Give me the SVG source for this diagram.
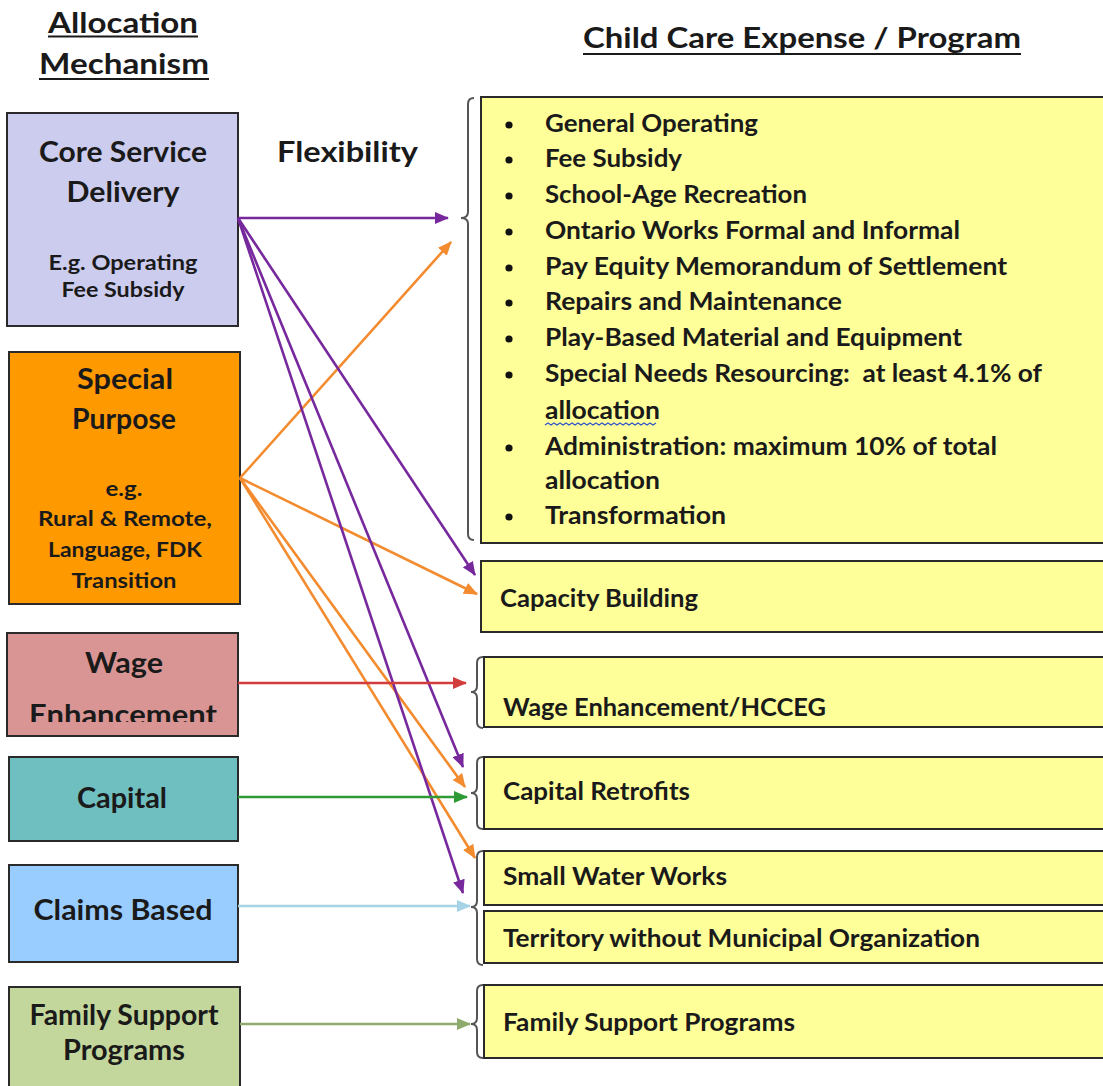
<svg xmlns="http://www.w3.org/2000/svg" width="1103" height="1086" viewBox="0 0 1103 1086">
<style>
text{font-family:Lato,"Liberation Sans",sans-serif;font-weight:700;fill:#1a1a1a}
.hd{font-size:28px}
.big{font-size:29px;text-anchor:middle}
.sm{font-size:20px;text-anchor:middle}
.it{font-size:24px}
.box{stroke:#2a2a2a;stroke-width:2}
.ybox{fill:#FFFF99;stroke:#2a2a2a;stroke-width:2}
.brace{fill:none;stroke:#555;stroke-width:2}
.ul{stroke:#1a1a1a;stroke-width:2}
.c{fill:none;stroke-width:2.6}
</style>
<defs>
<marker id="mP" viewBox="0 0 14 12" refX="13" refY="6" markerWidth="14" markerHeight="12" markerUnits="userSpaceOnUse" orient="auto"><path d="M0,0 L14,6 L0,12 z" fill="#76289C"/></marker>
<marker id="mO" viewBox="0 0 14 12" refX="13" refY="6" markerWidth="14" markerHeight="12" markerUnits="userSpaceOnUse" orient="auto"><path d="M0,0 L14,6 L0,12 z" fill="#F38B2F"/></marker>
<marker id="mR" viewBox="0 0 14 12" refX="13" refY="6" markerWidth="14" markerHeight="12" markerUnits="userSpaceOnUse" orient="auto"><path d="M0,0 L14,6 L0,12 z" fill="#D23C3C"/></marker>
<marker id="mG" viewBox="0 0 14 12" refX="13" refY="6" markerWidth="14" markerHeight="12" markerUnits="userSpaceOnUse" orient="auto"><path d="M0,0 L14,6 L0,12 z" fill="#2E9A35"/></marker>
<marker id="mB" viewBox="0 0 14 12" refX="13" refY="6" markerWidth="14" markerHeight="12" markerUnits="userSpaceOnUse" orient="auto"><path d="M0,0 L14,6 L0,12 z" fill="#A7D3E6"/></marker>
<marker id="mF" viewBox="0 0 14 12" refX="13" refY="6" markerWidth="14" markerHeight="12" markerUnits="userSpaceOnUse" orient="auto"><path d="M0,0 L14,6 L0,12 z" fill="#8EAA6C"/></marker>
<clipPath id="wclip"><rect x="0" y="630" width="245" height="92"/></clipPath>
</defs>
<rect width="1103" height="1086" fill="#ffffff"/>

<g id="headers">
<text class="hd" x="48" y="33" textLength="150" lengthAdjust="spacingAndGlyphs">Allocation</text>
<line class="ul" x1="48" y1="36.5" x2="198" y2="36.5"/>
<text class="hd" x="39" y="74" textLength="170" lengthAdjust="spacingAndGlyphs">Mechanism</text>
<line class="ul" x1="39" y1="79" x2="209" y2="79"/>
<text class="hd" x="583" y="48" textLength="438" lengthAdjust="spacingAndGlyphs">Child Care Expense / Program</text>
<line class="ul" x1="583" y1="54" x2="1021" y2="54"/>
<text class="hd" x="277" y="162" font-size="29" textLength="141" lengthAdjust="spacingAndGlyphs">Flexibility</text>
</g>

<g id="core-service">
<rect class="box" x="7" y="113" width="231" height="213" fill="#CCCCEE"/>
<text class="big" x="123" y="162" textLength="168" lengthAdjust="spacingAndGlyphs">Core Service</text>
<text class="big" x="123" y="202" textLength="113" lengthAdjust="spacingAndGlyphs">Delivery</text>
<text class="sm" x="123" y="270" textLength="149" lengthAdjust="spacingAndGlyphs">E.g. Operating</text>
<text class="sm" x="123" y="297" textLength="123" lengthAdjust="spacingAndGlyphs">Fee Subsidy</text>
</g>

<g id="special-purpose">
<rect class="box" x="9" y="352" width="231" height="252" fill="#FF9900"/>
<text class="big" x="125" y="389" textLength="96" lengthAdjust="spacingAndGlyphs">Special</text>
<text class="big" x="124" y="429" textLength="104" lengthAdjust="spacingAndGlyphs">Purpose</text>
<text class="sm" x="124" y="496" textLength="37" lengthAdjust="spacingAndGlyphs">e.g.</text>
<text class="sm" x="125" y="526" textLength="174" lengthAdjust="spacingAndGlyphs">Rural &amp; Remote,</text>
<text class="sm" x="125" y="557" textLength="154" lengthAdjust="spacingAndGlyphs">Language, FDK</text>
<text class="sm" x="124" y="588" textLength="105" lengthAdjust="spacingAndGlyphs">Transition</text>
</g>

<g id="wage-enhancement">
<rect class="box" x="7" y="633" width="231" height="103" fill="#D99594"/>
<text class="big" x="124" y="673" font-size="28" textLength="78" lengthAdjust="spacingAndGlyphs">Wage</text>
<text class="big" x="123" y="725" font-size="29" textLength="188" lengthAdjust="spacingAndGlyphs" clip-path="url(#wclip)">Enhancement</text>
</g>

<g id="capital">
<rect class="box" x="9" y="757" width="229" height="84" fill="#6FBEC0"/>
<text class="big" x="122" y="808" textLength="90" lengthAdjust="spacingAndGlyphs">Capital</text>
</g>

<g id="claims-based">
<rect class="box" x="9" y="865" width="229" height="97" fill="#99CCFF"/>
<text class="big" x="123" y="920" textLength="179" lengthAdjust="spacingAndGlyphs">Claims Based</text>
</g>

<g id="family-support">
<rect class="box" x="9" y="987" width="231" height="110" fill="#C3D69B"/>
<text class="big" x="124" y="1025" font-size="27" textLength="189" lengthAdjust="spacingAndGlyphs">Family Support</text>
<text class="big" x="124" y="1060" font-size="27" textLength="122" lengthAdjust="spacingAndGlyphs">Programs</text>
</g>

<g id="core-programs">
<path class="brace" d="M474,98 Q468,98 468,104 L468,212 Q468,218 461,218 Q468,218 468,224 L468,534 Q468,540 474,540"/>
<rect class="ybox" x="481" y="97" width="630" height="446"/>
<g fill="#111">
<circle cx="509" cy="125" r="3.6"/><circle cx="509" cy="160" r="3.6"/><circle cx="509" cy="196" r="3.6"/>
<circle cx="509" cy="232" r="3.6"/><circle cx="509" cy="268" r="3.6"/><circle cx="509" cy="303" r="3.6"/>
<circle cx="509" cy="339" r="3.6"/><circle cx="509" cy="375" r="3.6"/><circle cx="509" cy="448" r="3.6"/>
<circle cx="509" cy="517" r="3.6"/>
</g>
<text class="it" x="545" y="132" textLength="213" lengthAdjust="spacingAndGlyphs">General Operating</text>
<text class="it" x="545" y="167" textLength="137" lengthAdjust="spacingAndGlyphs">Fee Subsidy</text>
<text class="it" x="545" y="203" textLength="262" lengthAdjust="spacingAndGlyphs">School-Age Recreation</text>
<text class="it" x="545" y="239" textLength="415" lengthAdjust="spacingAndGlyphs">Ontario Works Formal and Informal</text>
<text class="it" x="545" y="275" textLength="462" lengthAdjust="spacingAndGlyphs">Pay Equity Memorandum of Settlement</text>
<text class="it" x="545" y="310" textLength="297" lengthAdjust="spacingAndGlyphs">Repairs and Maintenance</text>
<text class="it" x="545" y="346" textLength="417" lengthAdjust="spacingAndGlyphs">Play-Based Material and Equipment</text>
<text class="it" x="545" y="382" textLength="497" lengthAdjust="spacingAndGlyphs" xml:space="preserve">Special Needs Resourcing:  at least 4.1% of</text>
<text class="it" x="545" y="419" textLength="115" lengthAdjust="spacingAndGlyphs">allocation</text>
<path d="M545,425 l3,-2 l3,2 l3,-2 l3,2 l3,-2 l3,2 l3,-2 l3,2 l3,-2 l3,2 l3,-2 l3,2 l3,-2 l3,2 l3,-2 l3,2 l3,-2 l3,2 l3,-2 l3,2 l3,-2 l3,2 l3,-2 l3,2 l3,-2 l3,2 l3,-2 l3,2 l3,-2 l3,2 l3,-2 l3,2 l3,-2 l3,2 l3,-2 l3,2 l3,-2" fill="none" stroke="#3355CC" stroke-width="1.3"/>
<text class="it" x="545" y="455" textLength="452" lengthAdjust="spacingAndGlyphs">Administration: maximum 10% of total</text>
<text class="it" x="545" y="489" textLength="115" lengthAdjust="spacingAndGlyphs">allocation</text>
<text class="it" x="545" y="524" textLength="181" lengthAdjust="spacingAndGlyphs">Transformation</text>
</g>

<g id="capacity-building">
<rect class="ybox" x="481" y="561" width="630" height="71"/>
<text class="it" x="500" y="607" textLength="198" lengthAdjust="spacingAndGlyphs">Capacity Building</text>
</g>

<g id="wage-hcceg">
<path class="brace" d="M483,657 Q477,657 477,663 L477,686 Q477,692 471,692 Q477,692 477,698 L477,722 Q477,728 483,728"/>
<rect class="ybox" x="484" y="657" width="627" height="70"/>
<text class="it" x="503" y="716" textLength="323" lengthAdjust="spacingAndGlyphs">Wage Enhancement/HCCEG</text>
</g>

<g id="capital-retrofits">
<path class="brace" d="M483,757 Q477,757 477,763 L477,787 Q477,793 471,793 Q477,793 477,799 L477,823 Q477,829 483,829"/>
<rect class="ybox" x="484" y="757" width="627" height="72"/>
<text class="it" x="503" y="800" textLength="187" lengthAdjust="spacingAndGlyphs">Capital Retrofits</text>
</g>

<g id="small-water-works">
<path class="brace" d="M483,851 Q477,851 477,857 L477,901 Q477,907 471,907 Q477,907 477,913 L477,959 Q477,965 483,965"/>
<rect class="ybox" x="484" y="851" width="627" height="54"/>
<text class="it" x="503" y="885" textLength="224" lengthAdjust="spacingAndGlyphs">Small Water Works</text>
</g>

<g id="territory">
<rect class="ybox" x="484" y="911" width="627" height="52"/>
<text class="it" x="503" y="947" textLength="477" lengthAdjust="spacingAndGlyphs">Territory without Municipal Organization</text>
</g>

<g id="family-support-programs">
<path class="brace" d="M483,985 Q477,985 477,991 L477,1018 Q477,1024 471,1024 Q477,1024 477,1030 L477,1052 Q477,1058 483,1058"/>
<rect class="ybox" x="484" y="985" width="627" height="73"/>
<text class="it" x="503" y="1031" textLength="292" lengthAdjust="spacingAndGlyphs">Family Support Programs</text>
</g>

<g id="connectors">
<g stroke="#F38B2F" class="c" stroke-width="2.3">
<line x1="240" y1="478" x2="451" y2="242" marker-end="url(#mO)"/>
<line x1="240" y1="478" x2="477" y2="594" marker-end="url(#mO)"/>
<line x1="240" y1="478" x2="465" y2="787" marker-end="url(#mO)"/>
<line x1="240" y1="478" x2="475" y2="858" marker-end="url(#mO)"/>
</g>
<g stroke="#76289C" class="c">
<line x1="238" y1="218" x2="448" y2="218" marker-end="url(#mP)"/>
<line x1="238" y1="218" x2="475" y2="575" marker-end="url(#mP)"/>
<line x1="238" y1="218" x2="463" y2="767" marker-end="url(#mP)"/>
<line x1="238" y1="218" x2="463" y2="893" marker-end="url(#mP)"/>
</g>
<line class="c" stroke="#D23C3C" x1="238" y1="683" x2="466" y2="683" marker-end="url(#mR)"/>
<line class="c" stroke="#2E9A35" x1="238" y1="797" x2="467" y2="797" marker-end="url(#mG)"/>
<line class="c" stroke="#A7D3E6" x1="238" y1="906" x2="470" y2="906" marker-end="url(#mB)"/>
<line class="c" stroke="#8EAA6C" x1="240" y1="1024" x2="470" y2="1024" marker-end="url(#mF)"/>
</g>
</svg>
